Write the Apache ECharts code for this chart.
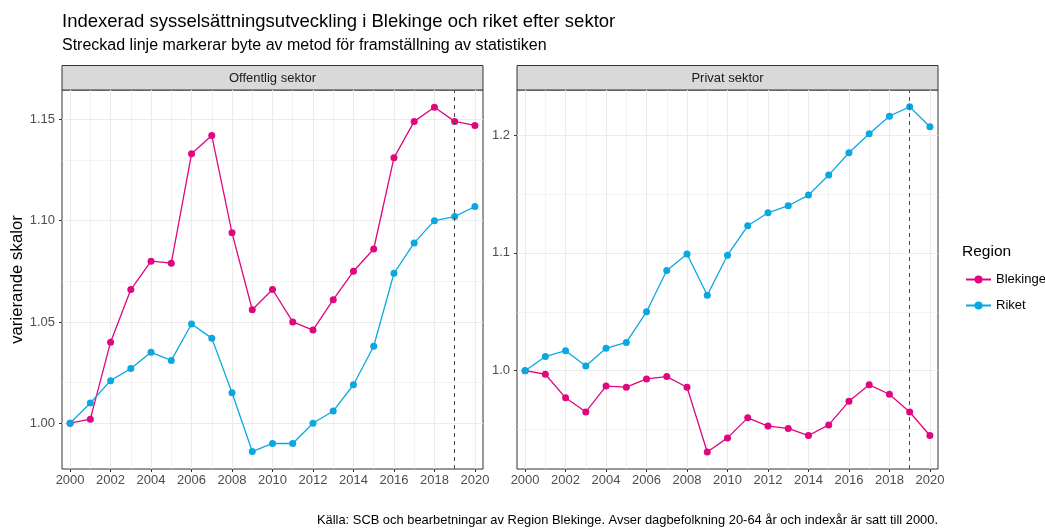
<!DOCTYPE html>
<html>
<head>
<meta charset="utf-8">
<script src="https://cdn.jsdelivr.net/npm/echarts@6/dist/echarts.min.js"></script>
<style>
  html, body { margin: 0; padding: 0; background: #fff; }
  #chart { width: 1045px; height: 528px; }
</style>
</head>
<body>
<div id="chart"></div>
<script>
const years = [2000, 2001, 2002, 2003, 2004, 2005, 2006, 2007, 2008, 2009, 2010,
  2011, 2012, 2013, 2014, 2015, 2016, 2017, 2018, 2019, 2020]

// Offentlig sektor
const offBlekinge = [1.000, 1.002, 1.040, 1.066, 1.080, 1.079, 1.133, 1.142, 1.094, 1.056, 1.066,
  1.050, 1.046, 1.061, 1.075, 1.086, 1.131, 1.149, 1.156, 1.149, 1.147]
const offRiket = [1.000, 1.010, 1.021, 1.027, 1.035, 1.031, 1.049, 1.042, 1.015, 0.986, 0.990,
  0.990, 1.000, 1.006, 1.019, 1.038, 1.074, 1.089, 1.100, 1.102, 1.107]

// Privat sektor
const privBlekinge = [1.000, 0.997, 0.977, 0.965, 0.987, 0.986, 0.993, 0.995, 0.986, 0.931, 0.943,
  0.960, 0.953, 0.951, 0.945, 0.954, 0.974, 0.988, 0.980, 0.965, 0.945]
const privRiket = [1.000, 1.012, 1.017, 1.004, 1.019, 1.024, 1.050, 1.085, 1.099, 1.064, 1.098,
  1.123, 1.134, 1.140, 1.149, 1.166, 1.185, 1.201, 1.216, 1.224, 1.207]

const xTicks = [2000, 2002, 2004, 2006, 2008, 2010, 2012, 2014, 2016, 2018, 2020]
const xMinor = [2001, 2003, 2005, 2007, 2009, 2011, 2013, 2015, 2017, 2019]
const offTicks = [1.00, 1.05, 1.10, 1.15]
const offMinor = [1.025, 1.075, 1.125]
const privTicks = [1.0, 1.1, 1.2]
const privMinor = [0.95, 1.05, 1.15]
const methodChangeYear = 2019

const panels = ['Offentlig sektor', 'Privat sektor']
const regions = ['Blekinge', 'Riket']
const colors = { Blekinge: '#e0067f', Riket: '#0aa8e0' }

const font = 'Liberation Sans, Arial, sans-serif'
const pairs = (vals) => years.map((y, i) => [y, vals[i]])

const chart = echarts.init(document.getElementById('chart'), null, { renderer: 'canvas' })

// ggplot-style major/minor grid, drawn under the data
const gridLines = (xi, majorY, minorY) => ({
  type: 'line',
  data: [],
  xAxisIndex: xi,
  yAxisIndex: xi,
  silent: true,
  z: 1,
  markLine: {
    z: 1,
    silent: true,
    symbol: 'none',
    animation: false,
    label: { show: false },
    emphasis: { disabled: true },
    data: [
      ...xMinor.map(v => ({ xAxis: v, lineStyle: { color: '#ebebeb', width: 0.6, type: 'solid' } })),
      ...minorY.map(v => ({ yAxis: v, lineStyle: { color: '#ebebeb', width: 0.6, type: 'solid' } })),
      ...xTicks.map(v => ({ xAxis: v, lineStyle: { color: '#ebebeb', width: 1.1, type: 'solid' } })),
      ...majorY.map(v => ({ yAxis: v, lineStyle: { color: '#ebebeb', width: 1.1, type: 'solid' } }))
    ]
  }
})

const dataSeries = (name, vals, xi, withDash) => ({
  name,
  type: 'line',
  data: pairs(vals),
  xAxisIndex: xi,
  yAxisIndex: xi,
  z: 3,
  symbol: 'circle',
  symbolSize: 7,
  color: colors[name],
  lineStyle: { width: 1.3, color: colors[name] },
  itemStyle: { color: colors[name] },
  animation: false,
  markLine: withDash ? {
    silent: true,
    symbol: 'none',
    label: { show: false },
    lineStyle: { color: '#4d4d4d', width: 1, type: [4, 4] },
    data: [{ xAxis: methodChangeYear }]
  } : undefined
})

const xAxisCfg = (gi) => ({
  type: 'value',
  gridIndex: gi,
  min: 1999.6,
  max: 2020.4,
  axisLine: { show: false },
  splitLine: { show: false },
  axisTick: { show: true, customValues: xTicks, length: 3, lineStyle: { color: '#333' } },
  axisLabel: {
    customValues: xTicks,
    formatter: v => String(v),
    color: '#4d4d4d',
    fontSize: 13,
    fontFamily: font,
    margin: 5
  }
})

const yAxisCfg = (gi, min, max, ticks, digits, extra) => Object.assign({
  type: 'value',
  gridIndex: gi,
  min,
  max,
  axisLine: { show: false },
  splitLine: { show: false },
  axisTick: { show: true, customValues: ticks, length: 3, lineStyle: { color: '#333' } },
  axisLabel: {
    customValues: ticks,
    formatter: v => v.toFixed(digits),
    color: '#4d4d4d',
    fontSize: 13,
    fontFamily: font,
    margin: 7
  }
}, extra)

const stripGraphic = (x, label) => [
  {
    type: 'rect',
    shape: { x, y: 65.5, width: 421, height: 24.5 },
    style: { fill: '#d9d9d9', stroke: '#333', lineWidth: 1 }
  },
  {
    type: 'text',
    x: x + 210.5,
    y: 78,
    style: {
      text: label,
      fill: '#1a1a1a',
      font: '13px ' + font,
      align: 'center',
      verticalAlign: 'middle'
    }
  }
]

chart.setOption({
  backgroundColor: '#fff',
  animation: false,
  textStyle: { fontFamily: font },
  title: [
    {
      text: 'Indexerad sysselsättningsutveckling i Blekinge och riket efter sektor',
      left: 62, top: 12, padding: 0,
      textStyle: { fontSize: 18.5, fontWeight: 'normal', color: '#000', fontFamily: font }
    },
    {
      text: 'Streckad linje markerar byte av metod för framställning av statistiken',
      left: 62, top: 38, padding: 0,
      textStyle: { fontSize: 16, fontWeight: 'normal', color: '#000', fontFamily: font }
    },
    {
      text: 'Region',
      left: 962, top: 244, padding: 0,
      textStyle: { fontSize: 15.5, fontWeight: 'normal', color: '#000', fontFamily: font }
    },
    {
      text: 'Källa: SCB och bearbetningar av Region Blekinge. Avser dagbefolkning 20-64 år och indexår är satt till 2000.',
      right: 107, top: 514, padding: 0,
      textStyle: { fontSize: 12.9, fontWeight: 'normal', color: '#000', fontFamily: font }
    }
  ],
  legend: {
    data: regions,
    orient: 'vertical',
    left: 965,
    top: 273,
    padding: 0,
    itemWidth: 25,
    itemHeight: 10,
    itemGap: 13,
    textStyle: { fontSize: 13, color: '#000', fontFamily: font }
  },
  grid: [
    { left: 62, top: 90, width: 421, height: 379, show: true, borderColor: '#333', borderWidth: 1, backgroundColor: 'transparent' },
    { left: 517, top: 90, width: 421, height: 379, show: true, borderColor: '#333', borderWidth: 1, backgroundColor: 'transparent' }
  ],
  xAxis: [xAxisCfg(0), xAxisCfg(1)],
  yAxis: [
    yAxisCfg(0, 0.9774, 1.1645, offTicks, 2, {
      name: 'varierande skalor',
      nameLocation: 'middle',
      nameRotate: 90,
      nameGap: 36,
      nameTextStyle: { fontSize: 16.8, color: '#000', fontFamily: font }
    }),
    yAxisCfg(1, 0.9166, 1.2382, privTicks, 1, {})
  ],
  graphic: [...stripGraphic(62, panels[0]), ...stripGraphic(517, panels[1])],
  series: [
    gridLines(0, offTicks, offMinor),
    gridLines(1, privTicks, privMinor),
    dataSeries('Blekinge', offBlekinge, 0, false),
    dataSeries('Riket', offRiket, 0, true),
    dataSeries('Blekinge', privBlekinge, 1, false),
    dataSeries('Riket', privRiket, 1, true)
  ]
})

window.addEventListener('resize', () => {
  chart.resize()
})
</script>
</body>
</html>
